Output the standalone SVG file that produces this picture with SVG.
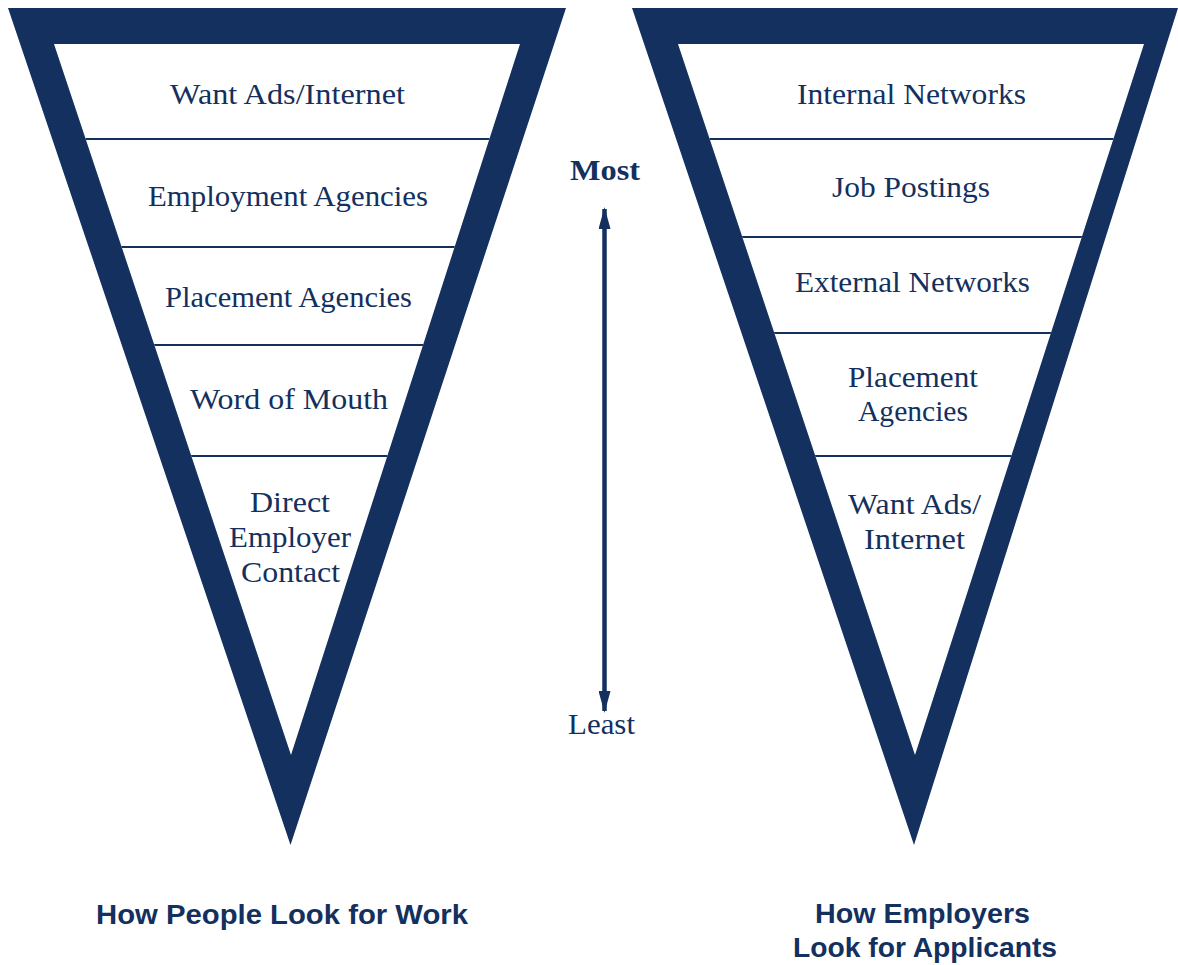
<svg xmlns="http://www.w3.org/2000/svg" width="1178" height="965" viewBox="0 0 1178 965">
<style>
.frame{fill:#13305e;fill-rule:evenodd}
.inner{fill:#ffffff}
.div{stroke:#13305e;stroke-width:2.2}
.lbl{font-family:"Liberation Serif",serif;font-size:29px;fill:#13305e;text-anchor:middle}
.most{font-family:"Liberation Serif",serif;font-size:29px;font-weight:bold;fill:#13305e;text-anchor:middle}
.ttl{font-family:"Liberation Sans",Arial,sans-serif;font-size:27px;font-weight:bold;fill:#13305e;text-anchor:middle}
</style>
<defs>
<marker id="ah" viewBox="0 0 22 12" refX="20" refY="6" markerWidth="22" markerHeight="12" markerUnits="userSpaceOnUse" orient="auto-start-reverse">
<path d="M0,0 L22,6 L0,12 Z" fill="#13305e"/>
</marker>
<clipPath id="clipL"><polygon points="54,44 520,44 291,755"/></clipPath>
<clipPath id="clipR"><polygon points="678,44 1144,44 915,755"/></clipPath>
</defs>
<rect width="1178" height="965" fill="#ffffff"/>
<g id="left-funnel">
<polygon class="inner" points="54,44 520,44 291,755"/>
<g clip-path="url(#clipL)">
<line class="div" x1="50" y1="139" x2="525" y2="139"/>
<line class="div" x1="50" y1="247" x2="525" y2="247"/>
<line class="div" x1="50" y1="345" x2="525" y2="345"/>
<line class="div" x1="50" y1="456" x2="525" y2="456"/>
</g>
<path class="frame" d="M8,8 L566,8 L290.5,845 Z M54,44 L291,755 L520,44 Z"/>
<text class="lbl" x="287.5" y="104" textLength="235" lengthAdjust="spacingAndGlyphs">Want Ads/Internet</text>
<text class="lbl" x="288" y="206" textLength="280" lengthAdjust="spacingAndGlyphs">Employment Agencies</text>
<text class="lbl" x="288.5" y="307" textLength="247" lengthAdjust="spacingAndGlyphs">Placement Agencies</text>
<text class="lbl" x="289" y="409" textLength="198" lengthAdjust="spacingAndGlyphs">Word of Mouth</text>
<text class="lbl" x="290" y="512" textLength="80" lengthAdjust="spacingAndGlyphs">Direct</text>
<text class="lbl" x="290" y="547" textLength="122" lengthAdjust="spacingAndGlyphs">Employer</text>
<text class="lbl" x="290.5" y="582" textLength="99" lengthAdjust="spacingAndGlyphs">Contact</text>
</g>
<g id="right-funnel">
<polygon class="inner" points="678,44 1144,44 915,755"/>
<g clip-path="url(#clipR)">
<line class="div" x1="670" y1="139" x2="1150" y2="139"/>
<line class="div" x1="670" y1="237" x2="1150" y2="237"/>
<line class="div" x1="670" y1="333" x2="1150" y2="333"/>
<line class="div" x1="670" y1="456" x2="1150" y2="456"/>
</g>
<path class="frame" d="M632,8 L1178,8 L914,845 Z M678,44 L915,755 L1144,44 Z"/>
<text class="lbl" x="911.5" y="104" textLength="229" lengthAdjust="spacingAndGlyphs">Internal Networks</text>
<text class="lbl" x="911" y="197" textLength="158" lengthAdjust="spacingAndGlyphs">Job Postings</text>
<text class="lbl" x="912.5" y="292" textLength="235" lengthAdjust="spacingAndGlyphs">External Networks</text>
<text class="lbl" x="913" y="387" textLength="130" lengthAdjust="spacingAndGlyphs">Placement</text>
<text class="lbl" x="913" y="421" textLength="110" lengthAdjust="spacingAndGlyphs">Agencies</text>
<text class="lbl" x="914.5" y="514" textLength="133" lengthAdjust="spacingAndGlyphs">Want Ads/</text>
<text class="lbl" x="914.5" y="549" textLength="101" lengthAdjust="spacingAndGlyphs">Internet</text>
</g>
<g id="scale">
<text class="most" x="605" y="180" textLength="70" lengthAdjust="spacingAndGlyphs">Most</text>
<text class="lbl" x="601.5" y="734" textLength="67" lengthAdjust="spacingAndGlyphs">Least</text>
</g>
<g id="connectors">
<line x1="604.5" y1="209" x2="604.5" y2="711" stroke="#13305e" stroke-width="4.5" marker-start="url(#ah)" marker-end="url(#ah)"/>
</g>
<g id="titles">
<text class="ttl" x="282" y="924" textLength="372" lengthAdjust="spacingAndGlyphs">How People Look for Work</text>
<text class="ttl" x="922.5" y="923" textLength="215" lengthAdjust="spacingAndGlyphs">How Employers</text>
<text class="ttl" x="925" y="957" textLength="264" lengthAdjust="spacingAndGlyphs">Look for Applicants</text>
</g>
</svg>
